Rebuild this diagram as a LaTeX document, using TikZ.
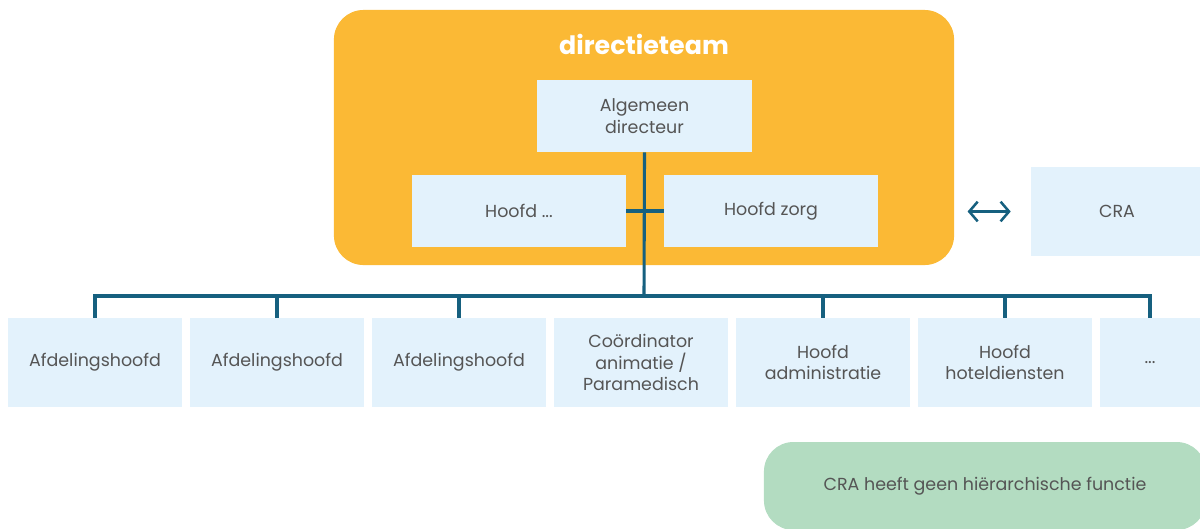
\documentclass[tikz,border=0pt]{standalone}
\usepackage{fontspec}
\setmainfont{Poppins}
\usetikzlibrary{arrows.meta}
\definecolor{teamorange}{HTML}{FBB935}
\definecolor{boxblue}{HTML}{E3F2FC}
\definecolor{linkblue}{HTML}{16607F}
\definecolor{notegreen}{HTML}{B3DCC1}
\definecolor{labelgray}{HTML}{555555}
\begin{document}
\begin{tikzpicture}[x=0.025cm, y=-0.025cm, >={Straight Barb[length=6pt,width=14pt]},
  func/.style={fill=boxblue, text=labelgray, align=center, inner sep=0pt,
    font=\fontsize{12.4}{15.2}\selectfont},
  topfunc/.style={func, minimum height=1.8cm},
  rowfunc/.style={func, minimum width=4.35cm, minimum height=2.225cm},
  link/.style={draw=linkblue, line width=2.2pt}]
  \useasboundingbox (0,0) rectangle (1200,528);
  \node[fill=teamorange, rounded corners=21pt, minimum width=15.5cm, minimum height=6.375cm] (team) at (644,137.5) {};
  \node[text=white, font=\fontsize{18}{21}\selectfont\bfseries] (title) at (644,44) {directieteam};
  \node[topfunc, minimum width=5.35cm] (ad) at (644.5,116) {Algemeen\\directeur};
  \node[topfunc, minimum width=5.35cm] (hx) at (519,211) {Hoofd ...};
  \node[topfunc, minimum width=5.35cm] (hz) at (771,211) {Hoofd zorg};
  \node[func, minimum width=4.3cm, minimum height=2.225cm] (cra) at (1117,211.5) {CRA};
  \coordinate (bus) at (644,296);
  \node[rowfunc] (r1) at (95,362.5) {Afdelingshoofd};
  \node[rowfunc] (r2) at (277,362.5) {Afdelingshoofd};
  \node[rowfunc] (r3) at (459,362.5) {Afdelingshoofd};
  \node[rowfunc] (r4) at (641,362.5) {Coördinator\\animatie /\\Paramedisch};
  \node[rowfunc] (r5) at (823,362.5) {Hoofd\\administratie};
  \node[rowfunc] (r6) at (1005,362.5) {Hoofd\\hoteldiensten};
  \node[rowfunc, minimum width=2.5cm] (r7) at (1150,362.5) {...};
  \node[func, fill=notegreen, rounded corners=21pt, minimum width=11.05cm, minimum height=2.2cm] (note) at (985,486) {CRA heeft geen hiërarchische functie};
  \draw[link] (ad.south) -- (bus);
  \draw[link] (hx.east) -- (hz.west);
  \draw[link] (r1.north) -- (r1.north |- bus) -- (r7.north |- bus) -- (r7.north);
  \foreach \r in {r2,r3,r5,r6}
    \draw[link] (\r.north) -- (\r.north |- bus);
  \draw[link, line width=1.8pt, <->, shorten <=0.33cm, shorten >=0.5cm] (team.east |- cra.west) -- (cra.west);
\end{tikzpicture}
\end{document}
